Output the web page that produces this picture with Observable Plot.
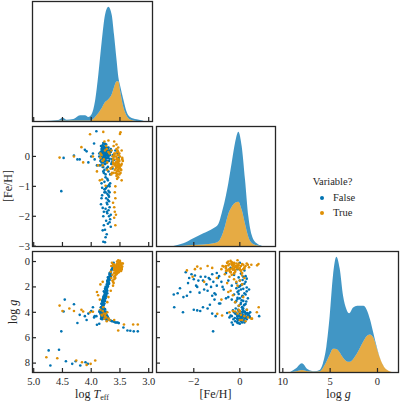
<!DOCTYPE html>
<html><head><meta charset="utf-8">
<script src="https://cdn.jsdelivr.net/npm/d3@7"></script>
<script src="https://cdn.jsdelivr.net/npm/@observablehq/plot@0.6"></script>
<style>
html,body{margin:0;padding:0;background:#fff;}
#root{position:relative;width:400px;height:401px;overflow:hidden;font-family:"Liberation Serif","Times New Roman","DejaVu Serif",serif;color:#262626;}
.lab{position:absolute;font-size:12px;white-space:nowrap;line-height:1;}
.lab sub{font-size:8px;vertical-align:-2px;line-height:0;}
.leg{position:absolute;font-size:10.5px;white-space:nowrap;line-height:1;}
.dot{position:absolute;width:4px;height:4px;border-radius:50%;}
</style></head><body><div id="root"></div><script>
// ---------- data: [log Teff, [Fe/H], log g] ----------
const starsFalse = [
[4.48,-0.05,3.94],[4.46,null,3.0],[4.30,0.03,3.36],[4.52,-1.16,5.5],[4.24,-0.10,4.84],[4.11,0.22,4.3],[4.08,0.17,4.6],[4.20,-0.10,4.2],[3.97,0.10,3.6],[4.05,-0.20,4.1],[4.00,0.00,3.9],[3.94,-0.10,4.3],[3.90,-0.30,4.98],[3.86,0.00,4.9],[3.91,0.84,4.3],[3.95,0.43,4.4],
[4.74,null,7.0],[4.56,null,6.95],[4.71,null,8.19],[4.44,null,7.85],[4.33,null,8.06],[4.27,null,7.85],[4.19,null,8.19],[4.10,null,7.93],[4.06,null,8.06],
[3.44,null,5.2],[3.37,null,5.43],[3.32,null,5.45],[3.26,null,5.5],[3.19,null,5.5],
[3.78,0.02,4.1],[3.76,-0.10,4.3],[3.80,0.15,3.9],[3.74,0.05,4.4],[3.82,-0.20,4.0],[3.77,0.25,4.2],[3.79,-0.35,4.3],[3.75,0.10,4.5],[3.81,0.30,3.8],[3.73,-0.05,4.6],[3.84,-0.15,4.1],[3.78,0.18,4.35],[3.76,-0.25,4.0],[3.80,0.05,4.45],[3.72,0.12,4.3],[3.83,0.35,4.2],[3.77,-0.45,4.4],[3.79,0.22,3.95],[3.74,-0.15,4.15],[3.81,0.08,4.25],[3.75,0.40,4.1],[3.85,-0.30,3.85],[3.70,0.00,4.5],[3.68,-0.08,4.6],[3.66,0.15,4.65],[3.64,-0.20,4.7],[3.62,0.05,4.7],[3.60,-0.12,4.75],[3.58,0.20,4.8],[3.56,-0.35,4.8],[3.54,0.10,4.8],[3.52,-0.05,4.85],[3.78,-0.55,4.05],[3.86,0.10,3.95],[3.71,0.28,4.4],[3.83,-0.08,4.5],[3.79,0.45,4.0],[3.76,0.12,3.75],[3.80,-0.18,3.7],[3.74,0.30,4.55],[3.73,-0.40,4.25],[3.82,0.18,4.4],[3.77,-0.02,3.9],[3.75,0.20,4.0],[3.81,-0.28,4.55],
[3.79,0.12,4.15],[3.77,0.32,4.05],[3.76,-0.02,4.25],[3.78,0.22,4.45],[3.75,0.08,4.2],[3.80,0.38,4.35],[3.74,0.18,3.95],[3.82,0.02,4.3],[3.73,-0.22,4.45],[3.71,0.05,4.55],[3.77,-0.12,4.5],[3.81,0.25,4.1],[3.79,-0.08,3.8],[3.84,0.14,3.95],[3.76,0.42,4.3],
[3.64,-0.10,0.6],[3.65,0.20,0.7],[3.63,-0.40,0.5],[3.61,0.00,0.1],
[3.66,-2.35,0.85],[3.67,-2.10,1.0],[3.68,-2.20,1.3],[3.66,-1.95,1.1],[3.67,0.05,0.95],[3.65,-0.25,1.05],[3.69,0.15,1.2],[3.67,-0.60,0.9],[3.69,-1.50,1.2],[3.68,-1.20,1.0],[3.67,-0.90,1.15],
[3.71,0.00,1.5],[3.69,-0.15,1.7],[3.72,0.25,1.6],[3.71,-0.35,1.9],[3.73,0.10,1.8],[3.73,-1.85,2.0],[3.72,-1.60,1.5],[3.70,-1.30,1.4],[3.71,-0.80,1.6],[3.72,-1.00,1.9],[3.75,-0.05,2.0],[3.70,0.30,1.35],
[3.74,0.05,2.2],[3.77,-0.10,2.4],[3.72,0.20,2.5],[3.76,-0.25,2.6],[3.74,0.12,2.7],[3.79,-0.50,2.8],[3.74,-1.40,2.3],[3.76,-1.10,2.5],[3.78,-2.30,2.7],[3.75,-0.70,2.2],[3.78,0.30,2.35],[3.75,-0.05,2.55],[3.73,-0.15,2.1],[3.75,-1.75,2.45],
[3.78,0.00,2.9],[3.81,0.15,3.1],[3.79,-0.20,3.2],[3.82,0.25,3.35],[3.80,-0.05,3.5],[3.80,-0.35,3.0],[3.82,-0.90,3.3],[3.81,-1.30,3.4],[3.77,0.08,3.05],[3.83,0.10,3.6],[3.83,-1.60,3.6],[3.79,-0.10,2.95],
[3.69,0.20,1.75],[3.72,0.05,1.85],[3.74,0.30,2.05],[3.72,-0.05,2.3],[3.76,0.25,2.6],[3.74,0.10,2.75],[3.79,0.35,2.9],[3.76,-0.15,3.1],[3.80,0.05,3.25],[3.78,0.20,3.4],[3.79,0.15,3.7],[3.76,0.15,2.15],[3.77,-0.10,2.85],[3.80,0.28,3.15],[3.71,0.00,1.95],[3.74,0.40,2.2],[3.79,0.18,3.45],[3.68,0.12,1.45],[3.71,-0.05,1.25],[3.66,0.25,1.15],
[3.70,-1.15,1.6],[3.72,-1.25,2.0],[3.69,-1.35,1.3],[3.74,-1.05,2.6],[3.71,-1.45,1.8],[3.73,-1.55,2.2],[3.68,-1.70,1.2],[3.70,-1.80,1.5],[3.72,-1.90,1.9],[3.69,-2.00,1.4],[3.74,-2.15,2.4],[3.71,-2.25,1.7],[3.76,-2.45,2.8],[3.73,-2.60,2.1],[3.75,-2.70,2.5],[3.77,-1.10,3.0],[3.75,-1.20,2.7],[3.76,-2.87,2.6],
[3.69,-0.95,1.3],[3.72,-0.75,2.0],[3.75,-0.60,2.9],[3.70,-0.50,1.5],[3.77,-0.85,3.3],[3.68,-1.00,0.9],
[3.80,-2.47,4.0],[3.79,-2.00,3.8],[3.78,-1.85,3.85],[3.80,-1.72,3.9],[3.82,-1.40,3.7],[3.77,-1.20,4.1],[3.81,-1.05,4.3],[3.79,-2.85,3.6]
];
const starsTrue = [
[3.55,-0.30,0.40],[3.53,-0.45,0.20],[3.56,-0.10,0.55],[3.52,-0.25,0.10],[3.54,0.05,0.35],[3.57,-0.55,0.70],[3.51,-0.35,0.05],[3.55,-0.60,0.50],[3.53,0.15,0.25],[3.56,-0.20,0.80],[3.50,-0.40,-0.05],[3.54,-0.15,0.45],[3.52,-0.50,0.30],[3.57,0.00,0.65],[3.55,-0.35,0.15],[3.53,-0.70,0.40],[3.58,-0.25,0.95],[3.51,0.10,0.20],[3.54,-0.45,0.60],[3.56,0.25,0.35],[3.52,-0.10,0.50],[3.55,-0.05,0.30],[3.50,-0.30,0.25],[3.57,-0.40,0.85],[3.53,-0.20,0.70],[3.49,-0.55,0.10],[3.56,-0.65,1.00],[3.54,0.20,0.55],[3.52,-0.30,0.65],[3.58,0.10,1.10],[3.55,-0.50,0.00],[3.51,-0.15,0.40],[3.53,0.30,0.15],[3.56,-0.35,0.25],[3.54,-0.60,0.75],[3.50,0.00,0.50],[3.57,-0.20,0.45],[3.52,-0.40,0.85],[3.55,0.15,0.60],[3.53,-0.10,-0.10],[3.48,-0.30,0.30],[3.59,-0.45,1.20],[3.54,-0.25,0.90],[3.51,-0.60,0.55],[3.56,0.40,0.45],[3.52,0.05,0.75],[3.55,-0.75,0.35],[3.53,-0.35,0.55],
[3.46,-0.05,0.15],[3.62,-0.20,0.35],[3.48,-0.45,0.60],[3.64,-0.55,0.10],[3.60,0.05,0.70],[3.47,-0.25,0.60],[3.61,-0.10,0.30],[3.45,-0.15,0.15],[3.63,-0.35,1.05],[3.60,0.10,0.90],[3.47,0.20,0.45],[3.62,-0.25,0.20],[3.66,-0.40,0.80],[3.59,-0.30,0.55],[3.46,-0.10,0.40],[3.61,0.35,0.25],[3.65,-0.60,0.35],[3.48,-0.45,0.75],
[3.49,0.81,0.2],[3.50,0.75,0.3],[3.60,0.50,0.25],[3.47,-0.80,0.6],
[3.59,-1.85,0.4],[3.60,-1.70,0.55],[3.58,-1.40,0.35],[3.59,-1.20,0.5],[3.57,-1.95,0.6],[3.58,-2.30,0.7],
[3.90,-0.50,2.4],[3.88,-0.30,2.65],[3.85,-0.80,3.0],[3.84,0.10,1.8],[3.80,-0.15,1.6],[3.62,-0.10,1.9],[3.63,0.00,1.5],[3.60,-0.25,1.4],[3.66,-0.40,2.3],[3.70,0.15,2.8],[3.72,-0.20,3.2],[3.65,0.20,1.3],[3.61,-0.55,1.7],[3.58,-1.00,1.3],[3.62,-1.55,1.6],[3.60,-2.05,1.2],
[3.78,-0.10,4.1],[3.76,0.20,4.3],[3.80,-0.30,3.9],[3.74,0.35,4.4],[3.82,0.05,4.2],[3.72,-0.45,4.0],[3.77,0.50,4.5],[3.79,0.82,3.6],[3.75,-0.98,4.12],[3.81,-0.77,4.25],[3.70,0.53,4.5],[3.68,0.10,4.6],[3.84,-0.05,3.8],[3.73,0.25,4.7],[3.60,0.00,4.6],
[4.17,0.31,3.8],[4.02,0.74,4.0],[4.14,-0.20,3.94],[3.97,0.00,3.95],
[4.55,-0.04,3.47],[4.38,null,3.7],[4.30,0.00,3.9],[4.50,null,3.9],
[4.78,null,7.54],[4.59,null,7.62],[4.26,null,7.8],[4.16,null,7.93],[4.08,null,8.14],[4.01,null,8.06],[3.93,null,7.8],
[3.43,null,4.96],[3.27,null,4.96],[3.19,null,4.96],[3.53,null,5.43]
];
// KDE curves (relative density, stacked: True at the bottom)
const teffKdeX     = [4.824,4.563,4.487,4.418,4.302,4.186,4.099,4.041,3.983,3.925,3.867,3.809,3.751,3.693,3.635,3.595,3.548,3.519,3.490,3.433,3.374,3.317,3.200,3.085];
const teffKdeFalse = [0,0.7,2.8,1.0,1.5,5.1,5.2,3.6,6,16,39,67,88,93,80,53,20,4,5,8,4,2.5,1.7,0.3];
const teffKdeTrue  = [0,0.3,0.5,0.3,0.5,0.6,0.5,0.4,1,4,8,13,19,22,27,34,40,40,31,14,5,1.5,0,0];
const fehKdeX      = [-2.868,-2.433,-1.999,-1.564,-1.129,-0.912,-0.767,-0.622,-0.477,-0.332,-0.187,-0.042,0.103,0.248,0.393,0.538,0.755,0.973];
const fehKdeFalse  = [0,2.4,6.7,11.2,15,17.5,22.7,26,30.7,43.7,59.7,69.7,63.3,44,20.3,8,2,0.3];
const fehKdeTrue   = [0,0.3,1,1.5,2.7,4.5,10,20,32,39,43,44,36,22,9,3,0.7,0];
const loggKdeX     = [9.18,8.55,7.94,7.31,6.60,6.06,5.71,5.35,5.00,4.65,4.29,3.94,3.58,3.23,2.94,2.52,2.09,1.45,1.03,0.74,0.39,0.04,-0.32,-0.74,-1.21,-1.56];
const loggKdeFalse = [0,3,6.7,2,0.4,1.3,4.7,15,38,72,91,82.7,61,51.3,48,51,46.6,35.3,24.3,15,4.7,1.3,0.2,0.1,0.1,0];
const loggKdeTrue  = [0,0.7,2,0.7,0.3,0.7,4,10,17,23,22.7,19.3,14,10.7,10,12.7,18.7,30,36,37,34,24,13.5,5.2,1.2,0];
// tick values
const teffTicks = [5.0,4.5,4.0,3.5,3.0];
const fehTicksY = [0,-1,-2,-3];
const fehTicksX = [-2,0];
const loggTicksY = [0,2,4,6,8];
const loggTicksX = [10,5,0];
const hueLabels = ["False","True"];

// ---------- drawing ----------
const BLUE = "#0173b2", ORANGE = "#de8f05", INK = "#262626";
const FONT = "'Liberation Serif', 'Times New Roman', 'DejaVu Serif', serif";
const root = document.getElementById("root");
const teffDomain = [5.021, 2.934], fehYDomain = [-3.01, 1.0], loggYDomain = [8.74, -0.79];
const fehXDomain = [-3.62, 1.55], loggXDomain = [10.35, -2.22];
const hueColor = {domain: hueLabels, range: [BLUE, ORANGE]};

function panel(frame, m, scales, marksFn) {
  const [x0, y0, x1, y1] = frame;
  const fw = x1 - x0, fh = y1 - y0;
  const svg = Plot.plot({
    width: fw + m.l + m.r, height: fh + m.t + m.b,
    marginLeft: m.l, marginRight: m.r, marginTop: m.t, marginBottom: m.b,
    style: {background: "transparent", overflow: "visible", fontFamily: FONT, color: INK},
    color: hueColor,
    ...scales,
    marks: [...marksFn(fw, fh), Plot.frame({stroke: INK, strokeWidth: 1.3})]
  });
  svg.style.position = "absolute";
  svg.style.left = (x0 - m.l) + "px";
  svg.style.top = (y0 - m.t) + "px";
  root.appendChild(svg);
}
// tidy table for stacked KDE: True first (bottom), then False on top
const kdeRows = (X, F, T) => [
  ...X.map((x, i) => ({x, density: T[i], hue: hueLabels[1]})),
  ...X.map((x, i) => ({x, density: F[i], hue: hueLabels[0]}))
];
const kdeTop = (F, T) => d3.max(F.map((f, i) => f + T[i])) * 1.05;
const tickB = (t, fh) => Plot.ruleX(t, {x: d => d, insetTop: fh - 4, stroke: INK, strokeWidth: 1.2});
const tickL = (t, fw) => Plot.ruleY(t, {y: d => d, insetRight: fw - 4, stroke: INK, strokeWidth: 1.2});
const kde = (X, F, T) => Plot.areaY(kdeRows(X, F, T), {x: "x", y: "density", z: "hue", fill: "hue", fillOpacity: 0.75, curve: "monotone-x", clip: true});
const dots = (data, xi, yi, color) => Plot.dot(data.filter(d => d[xi] != null && d[yi] != null), {x: d => d[xi], y: d => d[yi], r: 1.3, fill: color, clip: true});
const labX = (ticks, fmt) => Plot.axisX({ticks, tickSize: 0, tickPadding: 5, tickFormat: fmt, label: null, fontSize: 10.5, fontFamily: FONT, fill: INK});
const labY = (ticks, fmt) => Plot.axisY({ticks, tickSize: 0, tickPadding: 2.5, tickFormat: fmt, label: null, fontSize: 10.5, fontFamily: FONT, fill: INK});
const f1 = d3.format(".1f"), fi = d3.format("d");

// diagonal: log Teff
panel([32, 1, 152, 121], {l: 0, r: 0, t: 0, b: 0},
  {x: {domain: teffDomain, axis: null}, y: {domain: [0, kdeTop(teffKdeFalse, teffKdeTrue)], axis: null}},
  (fw, fh) => [kde(teffKdeX, teffKdeFalse, teffKdeTrue), tickB(teffTicks, fh)]);
// Teff vs FeH
panel([32, 126, 152, 246], {l: 32, r: 0, t: 0, b: 0},
  {x: {domain: teffDomain, axis: null}, y: {domain: fehYDomain}},
  (fw, fh) => [dots(starsFalse, 0, 1, BLUE), dots(starsTrue, 0, 1, ORANGE), tickB(teffTicks, fh), tickL(fehTicksY, fw), labY(fehTicksY, fi)]);
// diagonal: FeH
panel([156, 126, 275, 246], {l: 0, r: 0, t: 0, b: 0},
  {x: {domain: fehXDomain, axis: null}, y: {domain: [0, kdeTop(fehKdeFalse, fehKdeTrue)], axis: null}},
  (fw, fh) => [kde(fehKdeX, fehKdeFalse, fehKdeTrue), tickB(fehTicksX, fh)]);
// Teff vs logg
panel([32, 251, 152, 372], {l: 32, r: 0, t: 0, b: 14},
  {x: {domain: teffDomain}, y: {domain: loggYDomain}},
  (fw, fh) => [dots(starsFalse, 0, 2, BLUE), dots(starsTrue, 0, 2, ORANGE), tickB(teffTicks, fh), tickL(loggTicksY, fw), labX(teffTicks, f1), labY(loggTicksY, fi)]);
// FeH vs logg
panel([156, 251, 275, 372], {l: 0, r: 0, t: 0, b: 14},
  {x: {domain: fehXDomain}, y: {domain: loggYDomain, axis: null}},
  (fw, fh) => [dots(starsFalse, 1, 2, BLUE), dots(starsTrue, 1, 2, ORANGE), tickB(fehTicksX, fh), tickL(loggTicksY, fw), labX(fehTicksX, fi)]);
// diagonal: logg
panel([279, 251, 398, 372], {l: 0, r: 0, t: 0, b: 14},
  {x: {domain: loggXDomain}, y: {domain: [0, kdeTop(loggKdeFalse, loggKdeTrue)], axis: null}},
  (fw, fh) => [kde(loggKdeX, loggKdeFalse, loggKdeTrue), tickB(loggTicksX, fh), labX(loggTicksX, fi)]);

// axis titles
function label(html, x, y, rotate) {
  const el = document.createElement("div");
  el.className = "lab";
  el.innerHTML = html;
  el.style.left = x + "px";
  el.style.top = y + "px";
  el.style.transform = rotate ? "translate(-50%,-50%) rotate(-90deg)" : "translate(-50%,0)";
  root.appendChild(el);
}
label("[Fe/H]", 8, 186, true);
label("log <i>g</i>", 13, 311.5, true);
label("log <i>T</i><sub>eff</sub>", 92, 387.5, false);
label("[Fe/H]", 215.5, 387.5, false);
label("log <i>g</i>", 338.5, 387.5, false);

// legend
function leg(text, x, y, color) {
  const el = document.createElement("div");
  el.className = "leg";
  el.textContent = text;
  el.style.left = x + "px"; el.style.top = (y - 5.5) + "px";
  root.appendChild(el);
  const d = document.createElement("div");
  d.className = "dot";
  d.style.background = color;
  d.style.left = "320px"; d.style.top = (y - 2) + "px";
  root.appendChild(d);
}
const legTitle = document.createElement("div");
legTitle.className = "leg"; legTitle.textContent = "Variable?";
legTitle.style.left = "332.5px"; legTitle.style.top = "177px"; legTitle.style.transform = "translate(-50%,0)";
root.appendChild(legTitle);
leg(hueLabels[0], 333, 198, BLUE);
leg(hueLabels[1], 333, 213, ORANGE);
</script></body></html>
